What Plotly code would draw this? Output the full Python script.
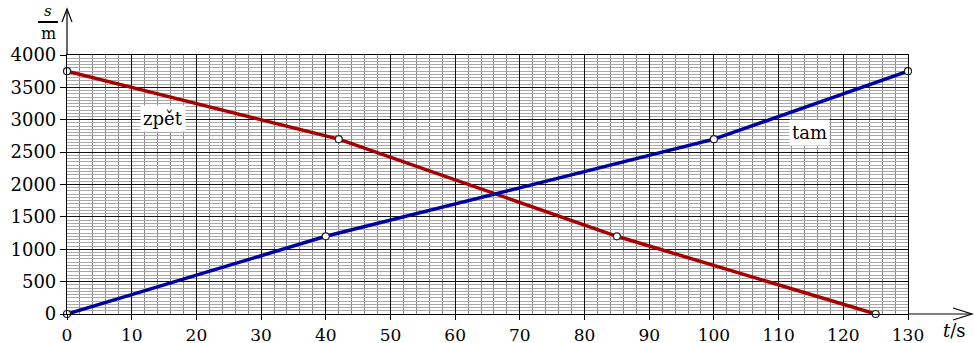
import plotly.graph_objects as go

# data
tam_t = [0, 40, 100, 130]
tam_s = [0, 1200, 2700, 3750]
zpet_t = [0, 42, 85, 125]
zpet_s = [3750, 2700, 1200, 0]
x_ticks = list(range(0, 131, 10))
y_ticks = list(range(0, 4001, 500))

W, H = 974, 343
L, R, T, B = 67, 66, 55, 29
pw, ph = W - L - R, H - T - B

def px(xp):
    return (xp - L) / pw

def py(yp):
    return (H - B - yp) / ph

FONT = "DejaVu Serif"

fig = go.Figure()
fig.add_trace(go.Scatter(x=zpet_t, y=zpet_s, mode="lines",
                         line=dict(color="#a80000", width=3.5), hoverinfo="skip"))
fig.add_trace(go.Scatter(x=tam_t, y=tam_s, mode="lines",
                         line=dict(color="#0000a0", width=3.5), hoverinfo="skip"))
fig.add_trace(go.Scatter(x=zpet_t + tam_t, y=zpet_s + tam_s, mode="markers",
                         marker=dict(color="white", size=7, line=dict(color="#222", width=1.2)),
                         cliponaxis=False, hoverinfo="skip"))

fig.update_xaxes(range=[0, 130], tickvals=x_ticks, ticktext=[str(v) for v in x_ticks],
                 showgrid=True, gridcolor="#111", gridwidth=1.2, automargin=False,
                 minor=dict(dtick=2, showgrid=True, gridcolor="#8a8a8a", gridwidth=1),
                 ticks="outside", ticklen=5, tickcolor="black", tickwidth=1.2,
                 showline=True, linecolor="black", linewidth=1.2, mirror=True,
                 zeroline=False, tickfont=dict(family=FONT, size=17, color="black"))
fig.update_yaxes(range=[0, 4000], tickvals=y_ticks, ticktext=[str(v) for v in y_ticks],
                 showgrid=True, gridcolor="#111", gridwidth=1.2, automargin=False,
                 minor=dict(dtick=50, showgrid=True, gridcolor="#a8a8a8", gridwidth=1),
                 ticks="outside", ticklen=6, tickcolor="black", tickwidth=1.2,
                 showline=True, linecolor="black", linewidth=1.2, mirror=True,
                 zeroline=False, tickfont=dict(family=FONT, size=18, color="black"))

shapes = []
# axis extensions with open arrowheads
shapes.append(dict(type="line", xref="paper", yref="paper", x0=0, y0=1, x1=0, y1=py(9),
                   line=dict(color="black", width=1.2)))
shapes.append(dict(type="path", xref="paper", yref="paper",
                   path=f"M {px(62)} {py(22)} L {px(67)} {py(9)} L {px(72)} {py(22)}",
                   line=dict(color="black", width=1.2)))
shapes.append(dict(type="line", xref="paper", yref="paper", x0=1, y0=0, x1=px(972), y1=0,
                   line=dict(color="black", width=1.2)))
shapes.append(dict(type="path", xref="paper", yref="paper",
                   path=f"M {px(953)} {py(308)} L {px(972)} {py(314)} L {px(953)} {py(320)}",
                   line=dict(color="black", width=1.2)))
# fraction bar for s/m
shapes.append(dict(type="line", xref="paper", yref="paper", x0=px(38), y0=py(22), x1=px(58), y1=py(22),
                   line=dict(color="black", width=2)))
fig.update_layout(shapes=shapes)

ann = [
    dict(x=px(48), y=py(21), xref="paper", yref="paper", text="<i>s</i>", showarrow=False,
         font=dict(family=FONT, size=15, color="black"), xanchor="center", yanchor="bottom",
         borderpad=0),
    dict(x=px(48), y=py(23), xref="paper", yref="paper", text="m", showarrow=False,
         font=dict(family=FONT, size=16, color="black"), xanchor="center", yanchor="top",
         borderpad=0),
    dict(x=px(955), y=py(330), xref="paper", yref="paper", text="<i>t</i>/s", showarrow=False,
         font=dict(family=FONT, size=18, color="black"), xanchor="center", yanchor="middle"),
    dict(x=14.8, y=3020, xref="x", yref="y", text="zpět", showarrow=False,
         font=dict(family=FONT, size=18, color="black"), bgcolor="white", borderpad=2),
    dict(x=114.8, y=2810, xref="x", yref="y", text="tam", showarrow=False,
         font=dict(family=FONT, size=18, color="black"), bgcolor="white", borderpad=2),
]
fig.update_layout(annotations=ann)

fig.update_layout(width=W, height=H, margin=dict(l=L, r=R, t=T, b=B, pad=0, autoexpand=False),
                  plot_bgcolor="white", paper_bgcolor="white", showlegend=False)
fig.write_html("out.html", config={"displayModeBar": False},
               post_script="document.body.style.margin='0';document.body.style.overflow='hidden';")
